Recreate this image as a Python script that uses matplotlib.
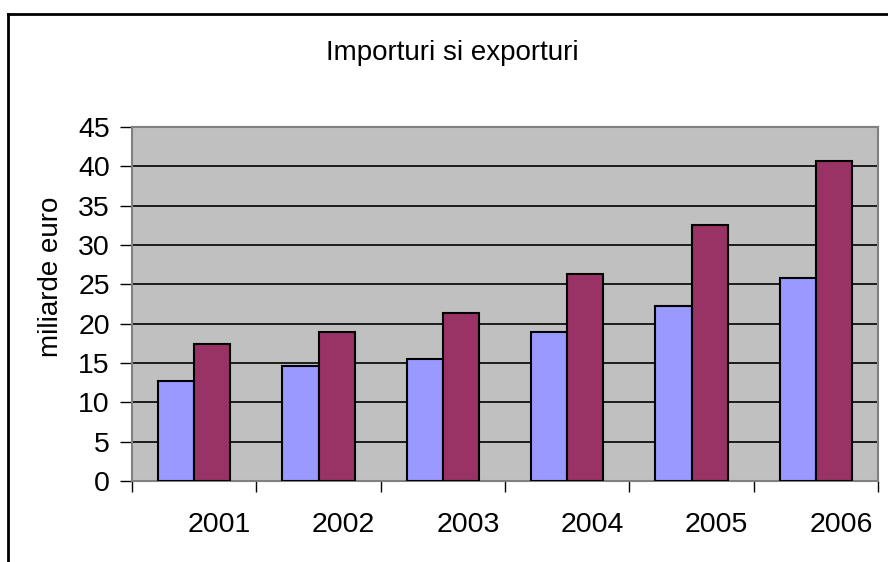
import matplotlib.pyplot as plt
import matplotlib.transforms as mtransforms
from matplotlib.lines import Line2D
import numpy as np

plt.rcParams['font.family'] = ['Liberation Sans', 'DejaVu Sans']

years = ['2001', '2002', '2003', '2004', '2005', '2006']
importuri = [12.7, 14.6, 15.5, 18.9, 22.2, 25.8]
exporturi = [17.45, 18.9, 21.3, 26.3, 32.5, 40.7]
yticks = [0, 5, 10, 15, 20, 25, 30, 35, 40, 45]

fig = plt.figure(figsize=(8.88, 5.62), dpi=100)
ax = fig.add_axes([132 / 888, 1 - 481 / 562, (878 - 132) / 888, (481 - 127) / 562])

x = np.arange(len(years))
w = 0.29
ax.bar(x - w / 2, importuri, width=w, color='#9999FF', edgecolor='black', linewidth=1.5, zorder=3)
ax.bar(x + w / 2, exporturi, width=w, color='#993366', edgecolor='black', linewidth=1.5, zorder=3)

ax.set_facecolor('#C0C0C0')
ax.set_xlim(-0.5, len(years) - 0.5)
ax.set_ylim(0, 45)
ax.set_yticks(yticks)
ax.yaxis.grid(True, color='black', linewidth=1.2, zorder=0)
ax.set_axisbelow(True)
for s in ax.spines.values():
    s.set_color('#808080')
    s.set_linewidth(1.5)

# category boundaries as ticks, labels sit a bit right of the centre
ax.set_xticks(np.arange(len(years) + 1) - 0.5)
ax.set_xticklabels([])
ax.set_xticks(x, minor=True)
ax.set_xticklabels(years, minor=True)
ax.tick_params(axis='x', which='major', length=8, width=1, color='black', direction='out')
ax.tick_params(axis='x', which='minor', length=0, pad=22, labelsize=20.5)
ax.tick_params(axis='y', length=9, width=1, color='black', labelsize=20.5, pad=7)
off = mtransforms.ScaledTranslation(25 / 100, 0, fig.dpi_scale_trans)
for lab in ax.xaxis.get_minorticklabels():
    lab.set_transform(lab.get_transform() + off)

fig.text(452 / 888, 1 - 53 / 562, 'Importuri si exporturi', ha='center', va='center', fontsize=20)
fig.text(51 / 888, 1 - 277 / 562, 'miliarde euro', ha='center', va='center', rotation=90, fontsize=20)

# outer chart frame (right and bottom edges fall outside the picture)
fig.add_artist(Line2D([8 / 888, 8 / 888], [0, 1 - 14 / 562], transform=fig.transFigure, color='black', linewidth=2))
fig.add_artist(Line2D([8 / 888, 1], [1 - 14 / 562, 1 - 14 / 562], transform=fig.transFigure, color='black', linewidth=2))

fig.savefig('out.png', dpi=100)
